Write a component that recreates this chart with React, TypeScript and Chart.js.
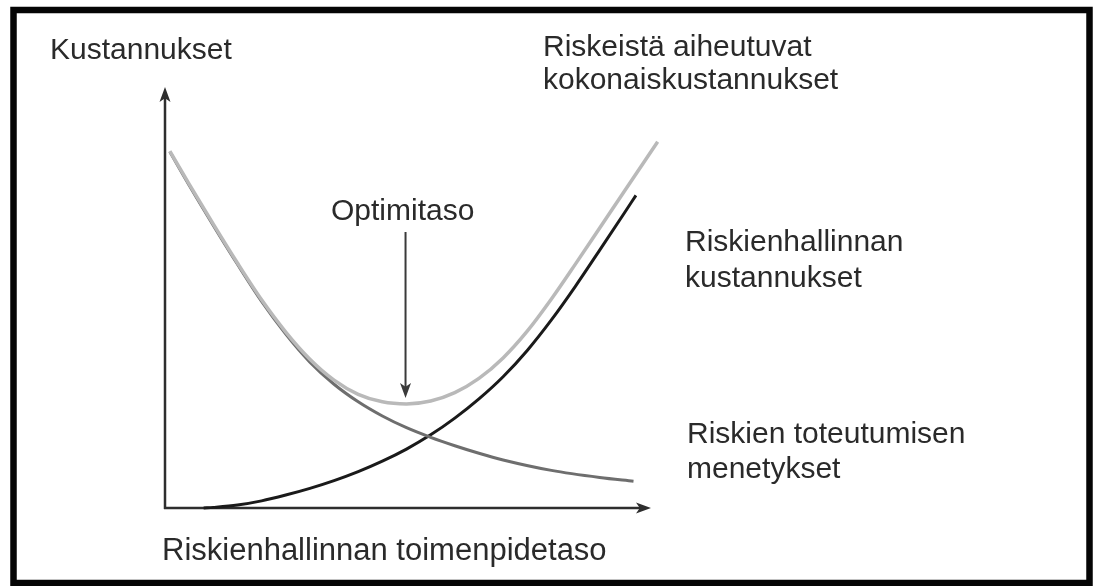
import React, { useEffect, useRef } from "react";
import { Chart, registerables } from "chart.js";

Chart.register(...registerables);

// Riskien toteutumisen menetykset (losses from realised risks)
const lossX = [1, 5, 10, 15, 20, 25, 30, 35, 40, 45, 50, 55, 60, 65, 70, 80, 90, 97];
const lossY = [85.2, 77.2, 67.6, 58.3, 49.4, 41.6, 34.9, 29.6, 25.4, 22.0, 19.2, 16.9, 14.9, 13.1, 11.5, 9.0, 7.3, 6.4];

// Riskienhallinnan kustannukset (risk management costs)
const mgmtX = [8, 10, 15, 20, 25, 30, 35, 40, 45, 50, 55, 60, 65, 70, 75, 80, 85, 90, 95, 97.5];
const mgmtY = [0, 0.15, 0.7, 1.7, 3.1, 4.7, 6.55, 8.7, 11.2, 14.1, 17.5, 21.5, 26.1, 31.4, 37.7, 45.0, 53.1, 61.7, 70.4, 74.8];

// Riskeistä aiheutuvat kokonaiskustannukset (total costs)
const totalX = [1, 5, 10, 15, 20, 25, 30, 35, 40, 45, 50, 55, 60, 65, 70, 75, 80, 85, 90, 95, 102];
const totalY = [85.4, 77.5, 67.9, 58.6, 49.8, 42.1, 35.6, 30.6, 27.2, 25.4, 24.9, 25.6, 27.6, 31.0, 35.9, 42.3, 50.0, 58.4, 67.0, 75.6, 87.6];

const optimumX = 49.8;
const optimumY = 24.9;

const yAxisTitle = "Kustannukset";
const xAxisTitle = "Riskienhallinnan toimenpidetaso";
const optimumLabel = "Optimitaso";
const totalLabel = ["Riskeistä aiheutuvat", "kokonaiskustannukset"];
const mgmtLabel = ["Riskienhallinnan", "kustannukset"];
const lossLabel = ["Riskien toteutumisen", "menetykset"];

const W = 1094;
const H = 586;
const FONT = '"Liberation Sans", Arial, sans-serif';

function pts(xs: number[], ys: number[]) {
  return xs.map((x, i) => ({ x, y: ys[i] }));
}

function arrowHead(ctx: CanvasRenderingContext2D, tx: number, ty: number, dir: "up" | "right" | "down", len: number, half: number) {
  ctx.beginPath();
  if (dir === "up") {
    ctx.moveTo(tx, ty);
    ctx.lineTo(tx - half, ty + len);
    ctx.lineTo(tx, ty + len * 0.75);
    ctx.lineTo(tx + half, ty + len);
  } else if (dir === "down") {
    ctx.moveTo(tx, ty);
    ctx.lineTo(tx - half, ty - len);
    ctx.lineTo(tx, ty - len * 0.75);
    ctx.lineTo(tx + half, ty - len);
  } else {
    ctx.moveTo(tx, ty);
    ctx.lineTo(tx - len, ty - half);
    ctx.lineTo(tx - len * 0.75, ty);
    ctx.lineTo(tx - len, ty + half);
  }
  ctx.closePath();
  ctx.fill();
}

const decorPlugin = {
  id: "decor",
  beforeDraw(chart: any) {
    const ctx = chart.ctx as CanvasRenderingContext2D;
    ctx.save();
    ctx.fillStyle = "#ffffff";
    ctx.fillRect(0, 0, chart.width, chart.height);
    ctx.restore();
  },
  beforeDatasetsDraw(chart: any) {
    const ctx = chart.ctx as CanvasRenderingContext2D;
    const a = chart.chartArea;
    ctx.save();
    ctx.strokeStyle = "#2e2e2e";
    ctx.fillStyle = "#2e2e2e";
    ctx.lineWidth = 2.5;
    // y axis
    ctx.beginPath();
    ctx.moveTo(a.left, a.bottom + 1);
    ctx.lineTo(a.left, a.top + 6);
    ctx.stroke();
    arrowHead(ctx, a.left, a.top - 3, "up", 15, 5.5);
    // x axis
    ctx.beginPath();
    ctx.moveTo(a.left - 1, a.bottom);
    ctx.lineTo(a.right - 6, a.bottom);
    ctx.stroke();
    arrowHead(ctx, a.right + 3, a.bottom, "right", 15, 5.5);
    ctx.restore();
  },
  afterDraw(chart: any) {
    const ctx = chart.ctx as CanvasRenderingContext2D;
    const xs = chart.scales.x;
    const ys = chart.scales.y;
    ctx.save();
    // frame
    ctx.strokeStyle = "#050505";
    ctx.lineWidth = 6.5;
    ctx.strokeRect(13.5, 10, 1076, 573);

    // optimum arrow
    const ox = xs.getPixelForValue(optimumX);
    const oy = ys.getPixelForValue(optimumY);
    ctx.strokeStyle = "#3a3a3a";
    ctx.fillStyle = "#3a3a3a";
    ctx.lineWidth = 2;
    ctx.beginPath();
    ctx.moveTo(ox, 232);
    ctx.lineTo(ox, oy - 16);
    ctx.stroke();
    arrowHead(ctx, ox, oy - 6, "down", 15, 5.5);

    // texts
    ctx.fillStyle = "#2a2a2a";
    ctx.textBaseline = "alphabetic";
    ctx.textAlign = "left";
    ctx.font = `30px ${FONT}`;
    ctx.fillText(yAxisTitle, 50, 59);
    ctx.fillText(totalLabel[0], 543, 56);
    ctx.fillText(totalLabel[1], 543, 89);
    ctx.fillText(optimumLabel, 331, 220);
    ctx.fillText(mgmtLabel[0], 685, 251);
    ctx.fillText(mgmtLabel[1], 685, 287);
    ctx.fillText(lossLabel[0], 687, 443);
    ctx.fillText(lossLabel[1], 687, 478);
    ctx.font = `31px ${FONT}`;
    ctx.fillText(xAxisTitle, 162, 560);
    ctx.restore();
  },
};

export default function App() {
  const ref = useRef<HTMLCanvasElement | null>(null);

  useEffect(() => {
    const canvas = ref.current;
    if (!canvas) return;
    const chart = new Chart(canvas, {
      type: "line",
      data: {
        datasets: [
          {
            label: totalLabel.join(" "),
            data: pts(totalX, totalY),
            borderColor: "#b9b9b9",
            borderWidth: 3.5,
            pointRadius: 0,
            cubicInterpolationMode: "monotone",
            fill: false,
            clip: false,
          } as any,
          {
            label: lossLabel.join(" "),
            data: pts(lossX, lossY),
            borderColor: "#6e6e6e",
            borderWidth: 3,
            pointRadius: 0,
            cubicInterpolationMode: "monotone",
            fill: false,
            clip: false,
          } as any,
          {
            label: mgmtLabel.join(" "),
            data: pts(mgmtX, mgmtY),
            borderColor: "#1a1a1a",
            borderWidth: 3,
            pointRadius: 0,
            cubicInterpolationMode: "monotone",
            fill: false,
            clip: false,
          } as any,
        ],
      },
      options: {
        animation: false,
        responsive: false,
        parsing: false as any,
        layout: { padding: { left: 165, right: W - 648, top: 90, bottom: H - 508 } },
        scales: {
          x: { type: "linear", min: 0, max: 100, display: false },
          y: { type: "linear", min: 0, max: 100, display: false },
        },
        plugins: {
          legend: { display: false },
          tooltip: { enabled: false },
          title: { display: false },
        },
        events: [],
      },
      plugins: [decorPlugin],
    });
    return () => chart.destroy();
  }, []);

  return (
    <div style={{ position: "absolute", left: 0, top: 0, width: W, height: H, background: "#ffffff" }}>
      <canvas ref={ref} width={W} height={H} style={{ display: "block", width: W, height: H }} />
    </div>
  );
}
